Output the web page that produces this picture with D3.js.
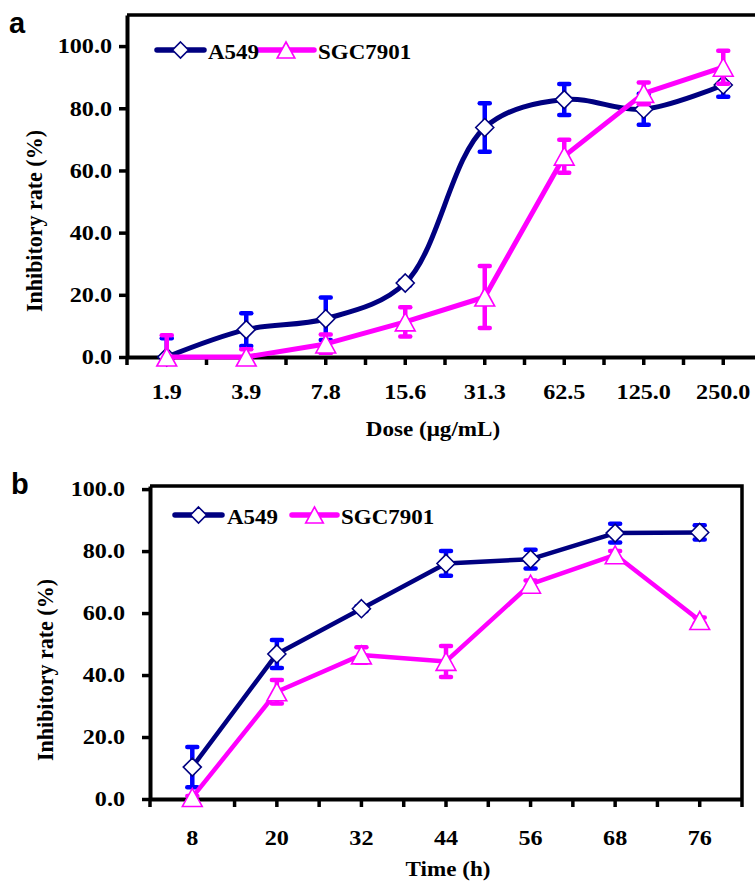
<!DOCTYPE html>
<html>
<head>
<meta charset="utf-8">
<script src="https://cdn.jsdelivr.net/npm/d3@7"></script>
<style>
  body { margin: 0; background: #fff; }
  svg { display: block; }
</style>
</head>
<body>
<div id="chart-area"></div>
<script>
// panel a: dose response
const doseLabels = ["1.9", "3.9", "7.8", "15.6", "31.3", "62.5", "125.0", "250.0"];
const a549Dose = [0, 8.8, 12.3, 23.8, 73.8, 82.8, 79.7, 87.5];
const a549DoseErr = [6, 5.3, 6.8, 0.8, 7.8, 5, 5, 3.8];
const sgcDose = [0, 0, 4.2, 11.3, 19.3, 64.6, 84.8, 93.2];
const sgcDoseErr = [7, 2.5, 3, 4.7, 10, 5.3, 3.5, 5.3];

// panel b: time course
const timeLabels = ["8", "20", "32", "44", "56", "68", "76"];
const a549Time = [10.3, 46.8, 61.4, 76.0, 77.4, 85.8, 86.0];
const a549TimeErr = [6.5, 4.5, 0.8, 4, 3, 3, 2.3];
const sgcTime = [0.5, 34.6, 46.5, 44.4, 69.3, 78.8, 57.6];
const sgcTimeErr = [0.5, 3.8, 2.5, 5, 1.2, 1.2, 1];

const yTicks = [0, 20, 40, 60, 80, 100];
const seriesNames = ["A549", "SGC7901"];

const navy = '#000080', blue = '#0000FF', magenta = '#FF00FF';
const serif = '"Liberation Serif","Times New Roman",serif';
const sx = 1.15;

const svg = d3.select("#chart-area").append("svg")
  .attr("width", 755)
  .attr("height", 883);

function stretchText(sel, k) {
  sel.each(function() {
    const t = d3.select(this);
    const x = +t.attr("x") || 0, y = +t.attr("y") || 0;
    t.attr("x", null).attr("y", null)
      .attr("transform", `translate(${x},${y}) scale(${k},1)`);
  });
}

function diamond(g, cx, cy, r) {
  g.append("path")
    .attr("d", `M${cx},${cy - r}L${cx + r},${cy}L${cx},${cy + r}L${cx - r},${cy}Z`)
    .attr("fill", "#fff").attr("stroke", navy).attr("stroke-width", 1.6);
}

function triangle(g, cx, cy, r) {
  g.append("path")
    .attr("d", `M${cx},${cy - r}L${cx + r * 1.1},${cy + r}L${cx - r * 1.1},${cy + r}Z`)
    .attr("fill", "#fff").attr("stroke", magenta).attr("stroke-width", 1.6);
}

function drawPanel(p) {
  const g = svg.append("g");
  const x = d3.scaleBand().domain(p.cats).range([p.left, p.right]).padding(0);
  const y = d3.scaleLinear().domain([0, p.ymax]).range([p.bottom, p.top]);

  // error bars are cut at the plot area like in the original
  g.append("clipPath").attr("id", "clip-" + p.letter)
    .append("rect")
    .attr("x", p.left).attr("y", p.top)
    .attr("width", p.right - p.left).attr("height", p.bottom - p.top - 2);

  // frame (top + right)
  g.append("path")
    .attr("d", `M${p.left},${p.top}H${p.right}V${p.bottom}`)
    .attr("fill", "none").attr("stroke", "#000").attr("stroke-width", 3.5);

  // x axis
  const xa = g.append("g").attr("transform", `translate(0,${p.bottom})`)
    .call(d3.axisBottom(x).tickSize(8).tickSizeOuter(0));
  xa.select(".domain").attr("stroke-width", 4);
  xa.selectAll(".tick line").attr("stroke-width", 3.5);
  xa.selectAll(".tick text")
    .attr("y", p.xLabelOff).attr("dy", null)
    .style("font-family", serif).style("font-size", "21px").style("font-weight", "bold")
    .attr("fill", "#000");
  stretchText(xa.selectAll(".tick text"), sx);
  // extra ticks on the category edges
  const edges = p.cats.map(c => x(c)).concat([x(p.cats[p.cats.length - 1]) + x.bandwidth()]);
  xa.selectAll(".edge").data(edges).enter().append("line")
    .attr("x1", d => d).attr("x2", d => d)
    .attr("y1", 0).attr("y2", 8)
    .attr("stroke", "#000").attr("stroke-width", 3.5);

  // y axis
  const ya = g.append("g").attr("transform", `translate(${p.left},0)`)
    .call(d3.axisLeft(y).tickValues(yTicks).tickFormat(d3.format(".1f"))
      .tickSize(8).tickSizeOuter(0).tickPadding(p.yPad));
  ya.select(".domain").attr("stroke-width", 4);
  ya.selectAll(".tick line").attr("stroke-width", 3.5);
  ya.selectAll(".tick text")
    .style("font-family", serif).style("font-size", "21px").style("font-weight", "bold")
    .attr("fill", "#000");
  stretchText(ya.selectAll(".tick text"), sx);

  const cx = (d, i) => x(p.cats[i]) + x.bandwidth() / 2;

  function series(vals, errs, lineColor, errColor, curve, marker) {
    const eb = g.append("g").attr("clip-path", `url(#clip-${p.letter})`);
    vals.forEach((v, i) => {
      const px = cx(v, i);
      eb.append("line")
        .attr("x1", px).attr("x2", px)
        .attr("y1", y(v - errs[i])).attr("y2", y(v + errs[i]))
        .attr("stroke", errColor).attr("stroke-width", 4.5);
      [v - errs[i], v + errs[i]].forEach(e => {
        eb.append("line")
          .attr("x1", px - 5).attr("x2", px + 5)
          .attr("y1", y(e)).attr("y2", y(e))
          .attr("stroke", errColor).attr("stroke-width", 4.5)
          .attr("stroke-linecap", "round");
      });
    });
    const line = d3.line().x((d, i) => cx(d, i)).y(d => y(d)).curve(curve);
    g.append("path").datum(vals)
      .attr("d", line)
      .attr("fill", "none").attr("stroke", lineColor)
      .attr("stroke-width", p.lw).attr("stroke-linejoin", "round");
    const mk = g.append("g");
    vals.forEach((v, i) => marker(mk, cx(v, i), y(v), 9));
  }

  series(p.s1, p.e1, navy, blue, p.curve1, diamond);
  series(p.s2, p.e2, magenta, magenta, d3.curveLinear, triangle);

  // legend
  const lg = g.append("g");
  lg.append("line").attr("x1", p.leg[0]).attr("x2", p.leg[1])
    .attr("y1", p.legY).attr("y2", p.legY)
    .attr("stroke", navy).attr("stroke-width", 5.5).attr("stroke-linecap", "round");
  diamond(lg, (p.leg[0] + p.leg[1]) / 2, p.legY, 8);
  lg.append("line").attr("x1", p.leg[3]).attr("x2", p.leg[4])
    .attr("y1", p.legY).attr("y2", p.legY)
    .attr("stroke", magenta).attr("stroke-width", 5.5).attr("stroke-linecap", "round");
  triangle(lg, (p.leg[3] + p.leg[4]) / 2, p.legY, 8);
  const lt = lg.selectAll("text").data(seriesNames).enter().append("text")
    .attr("x", (d, i) => i === 0 ? p.leg[2] : p.leg[5])
    .attr("y", p.legY + 9)
    .style("font-family", serif).style("font-size", "20px").style("font-weight", "bold")
    .text(d => d);
  stretchText(lt, sx);

  // axis titles
  g.append("text")
    .attr("transform", `translate(${p.xtX},${p.xtY}) scale(1.05,1)`)
    .attr("text-anchor", "middle")
    .style("font-family", serif).style("font-size", "22px").style("font-weight", "bold")
    .text(p.xTitle);
  g.append("text")
    .attr("transform", `translate(${p.ytX},${p.ytY}) rotate(-90) scale(1,1.08)`)
    .attr("text-anchor", "middle")
    .style("font-family", serif).style("font-size", "22px").style("font-weight", "bold")
    .text("Inhibitory rate (%)");

  // panel letter
  g.append("text")
    .attr("x", p.letterX).attr("y", p.letterY)
    .style("font-family", '"Liberation Sans",Arial,sans-serif')
    .style("font-size", "29px").style("font-weight", "bold")
    .text(p.letter);
}

drawPanel({
  cats: doseLabels, s1: a549Dose, e1: a549DoseErr, s2: sgcDose, e2: sgcDoseErr,
  left: 127, right: 763, top: 15, bottom: 357, ymax: 110,
  xLabelOff: 42, yPad: 7, lw: 5, curve1: d3.curveCatmullRom,
  leg: [157, 204, 208, 258, 314, 318], legY: 50,
  xTitle: "Dose (\u03bcg/mL)", xtX: 433, xtY: 436, ytX: 42, ytY: 221,
  letter: "a", letterX: 9, letterY: 33
});

drawPanel({
  cats: timeLabels, s1: a549Time, e1: a549TimeErr, s2: sgcTime, e2: sgcTimeErr,
  left: 150, right: 742, top: 486, bottom: 799, ymax: 101,
  xLabelOff: 46, yPad: 17, lw: 4.5, curve1: d3.curveLinear,
  leg: [175, 222, 227, 292, 337, 341], legY: 515,
  xTitle: "Time (h)", xtX: 448, xtY: 876, ytX: 53, ytY: 670,
  letter: "b", letterX: 11, letterY: 494
});
</script>
</body>
</html>
